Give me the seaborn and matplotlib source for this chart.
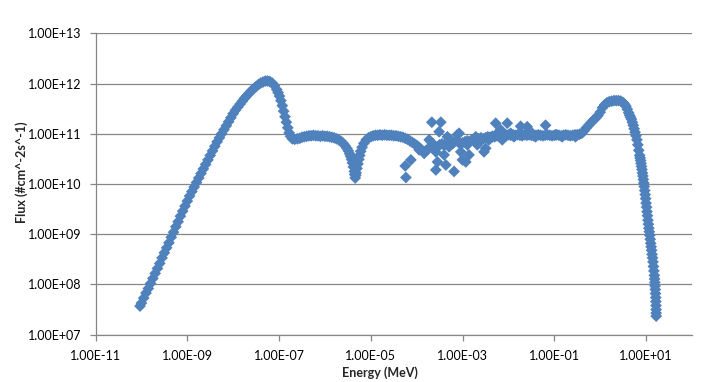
import numpy as np
import pandas as pd
import matplotlib
matplotlib.use("Agg")
import matplotlib.pyplot as plt
import seaborn as sns

# main spectrum as log10(Energy / MeV) and log10(Flux)
log_energy = [
    -10.03, -10.00, -9.95, -9.90, -9.85, -9.80, -9.75, -9.70, -9.65, -9.60,
    -9.55, -9.50, -9.45, -9.40, -9.35, -9.30, -9.25, -9.20, -9.15, -9.10,
    -9.05, -9.00, -8.95, -8.90, -8.85, -8.80, -8.75, -8.70, -8.65, -8.60,
    -8.55, -8.50, -8.45, -8.40, -8.35, -8.30, -8.25, -8.20, -8.15, -8.10,
    -8.05, -8.00, -7.95, -7.90, -7.85, -7.80, -7.75, -7.70, -7.65, -7.60,
    -7.55, -7.50, -7.45, -7.40, -7.35, -7.30, -7.25, -7.20, -7.15, -7.10,
    -7.05, -7.02, -6.99, -6.96, -6.93, -6.90, -6.87, -6.84, -6.81, -6.78,
    -6.75, -6.71, -6.66, -6.60, -6.55, -6.50, -6.45, -6.40, -6.35, -6.30,
    -6.25, -6.20, -6.15, -6.10, -6.05, -6.00, -5.95, -5.90, -5.85, -5.80,
    -5.75, -5.70, -5.65, -5.60, -5.56, -5.52, -5.49, -5.46, -5.44, -5.42,
    -5.40, -5.38, -5.36, -5.35, -5.34, -5.33, -5.32, -5.30, -5.28, -5.26,
    -5.24, -5.22, -5.19, -5.15, -5.10, -5.05, -5.00, -4.95, -4.90, -4.85,
    -4.80, -4.75, -4.70, -4.65, -4.60, -4.55, -4.50, -4.45, -4.40, -4.35,
    -4.30, -4.25, -4.20, -4.15, -4.10, -4.05, -4.00, -3.95, -3.90, -3.85,
    -3.80, -3.75, -3.70, -3.65, -3.60, -3.55, -3.50, -3.45, -3.40, -3.35,
    -3.30, -3.25, -3.20, -3.15, -3.10, -3.05, -3.00, -2.95, -2.90, -2.85,
    -2.80, -2.75, -2.70, -2.65, -2.60, -2.55, -2.50, -2.45, -2.40, -2.35,
    -2.30, -2.25, -2.20, -2.15, -2.10, -2.05, -2.00, -1.95, -1.90, -1.85,
    -1.80, -1.75, -1.70, -1.65, -1.60, -1.55, -1.50, -1.45, -1.40, -1.35,
    -1.30, -1.25, -1.20, -1.15, -1.10, -1.05, -1.00, -0.95, -0.90, -0.85,
    -0.80, -0.75, -0.70, -0.65, -0.60, -0.55, -0.50, -0.45, -0.40, -0.35,
    -0.30, -0.25, -0.20, -0.15, -0.10, -0.05, 0.00, 0.05, 0.10, 0.15,
    0.20, 0.25, 0.30, 0.35, 0.40, 0.45, 0.50, 0.53, 0.56, 0.59,
    0.62, 0.64, 0.66, 0.68, 0.70, 0.72, 0.74, 0.76, 0.78, 0.80,
    0.82, 0.84, 0.86, 0.87, 0.88, 0.89, 0.90, 0.91, 0.92, 0.93,
    0.94, 0.95, 0.96, 0.97, 0.98, 0.99, 1.00, 1.01, 1.02, 1.03,
    1.04, 1.05, 1.06, 1.07, 1.08, 1.09, 1.10, 1.11, 1.12, 1.13,
    1.14, 1.15, 1.16, 1.17, 1.18, 1.185, 1.19, 1.195, 1.20, 1.205,
    1.21, 1.213, 1.216, 1.218, 1.219, 1.22,
]
log_flux = [
    7.57, 7.63, 7.73, 7.83, 7.92, 8.02, 8.12, 8.22, 8.32, 8.42,
    8.53, 8.63, 8.73, 8.83, 8.94, 9.04, 9.15, 9.25, 9.36, 9.46,
    9.56, 9.66, 9.76, 9.85, 9.94, 10.03, 10.12, 10.21, 10.30, 10.39,
    10.48, 10.57, 10.66, 10.75, 10.84, 10.92, 11.00, 11.08, 11.16, 11.24,
    11.32, 11.40, 11.47, 11.53, 11.59, 11.65, 11.71, 11.76, 11.81, 11.86,
    11.90, 11.94, 11.98, 12.01, 12.03, 12.05, 12.05, 12.04, 12.01, 11.96,
    11.88, 11.82, 11.75, 11.66, 11.56, 11.45, 11.34, 11.23, 11.12, 11.02,
    10.95, 10.90, 10.89, 10.90, 10.91, 10.93, 10.94, 10.95, 10.96, 10.96,
    10.97, 10.96, 10.96, 10.95, 10.96, 10.95, 10.95, 10.94, 10.93, 10.92,
    10.90, 10.88, 10.85, 10.81, 10.76, 10.71, 10.66, 10.60, 10.55, 10.49,
    10.42, 10.34, 10.25, 10.19, 10.12, 10.17, 10.22, 10.31, 10.40, 10.49,
    10.57, 10.65, 10.73, 10.81, 10.88, 10.92, 10.94, 10.96, 10.97, 10.97,
    10.98, 10.97, 10.98, 10.97, 10.97, 10.97, 10.96, 10.96, 10.95, 10.94,
    10.93, 10.91, 10.89, 10.86, 10.83, 10.80, 10.77, 10.73, 10.69, 10.64,
    10.66, 10.70, 10.74, 10.72, 10.70, 10.74, 10.78, 10.80, 10.77, 10.82,
    10.80, 10.84, 10.82, 10.86, 10.84, 10.80, 10.82, 10.84, 10.86, 10.84,
    10.88, 10.90, 10.88, 10.90, 10.92, 10.90, 10.92, 10.94, 10.93, 10.95,
    10.94, 10.96, 10.95, 10.96, 10.97, 10.96, 10.98, 10.97, 10.98, 10.97,
    10.98, 10.97, 10.96, 10.98, 10.97, 10.98, 10.97, 10.96, 10.97, 10.98,
    10.97, 10.96, 10.97, 10.98, 10.97, 10.96, 10.97, 10.98, 10.97, 10.96,
    10.97, 10.98, 10.97, 10.96, 10.97, 10.98, 10.98, 10.99, 11.01, 11.06,
    11.12, 11.17, 11.22, 11.27, 11.31, 11.36, 11.43, 11.52, 11.58, 11.62,
    11.64, 11.65, 11.66, 11.66, 11.66, 11.65, 11.62, 11.59, 11.55, 11.49,
    11.42, 11.37, 11.33, 11.29, 11.23, 11.17, 11.10, 11.03, 10.96, 10.88,
    10.78, 10.67, 10.57, 10.52, 10.47, 10.41, 10.35, 10.29, 10.22, 10.16,
    10.09, 10.02, 9.95, 9.87, 9.79, 9.71, 9.62, 9.54, 9.45, 9.37,
    9.28, 9.20, 9.12, 9.05, 8.98, 8.90, 8.82, 8.75, 8.68, 8.60,
    8.53, 8.45, 8.36, 8.27, 8.18, 8.11, 8.04, 7.97, 7.90, 7.82,
    7.74, 7.66, 7.58, 7.50, 7.43, 7.37,
]

# scattered resonance points between ~1e-4 and ~1 MeV
log_energy_res = [
    -4.25, -4.235, -4.126, -3.946, -3.837, -3.670, -3.474, -3.511, -3.728, -3.657,
    -3.583, -3.583, -3.548, -3.402, -3.365, -3.330, -3.293, -3.222, -3.185, -3.113,
    -3.076, -3.039, -3.004, -2.930, -2.859, -2.896, -2.713, -2.678, -2.604, -2.533,
    -2.496, -2.424, -2.352, -2.278, -2.243, -2.170, -2.135, -2.061, -2.026, -1.952,
    -1.880, -1.735, -1.700, -1.591, -1.483, -1.409, -1.191, -0.974, -0.830, -0.539,
]
log_flux_res = [
    10.36, 10.13, 10.48, 10.68, 10.61, 11.23, 11.23, 11.04, 10.88, 10.81,
    10.64, 10.28, 10.44, 10.58, 10.38, 10.94, 10.74, 10.81, 10.25, 10.98,
    11.01, 10.64, 10.48, 10.44, 10.58, 10.78, 10.94, 10.78, 10.88, 10.64,
    10.71, 10.88, 10.94, 11.21, 11.01, 11.08, 10.88, 10.98, 11.21, 11.01,
    10.94, 11.15, 10.98, 11.14, 11.01, 10.94, 11.17, 10.98, 10.94, 10.94,
]

x_ticks = [1e-11, 1e-9, 1e-7, 1e-5, 1e-3, 1e-1, 1e1]
x_tick_labels = ["1.00E-11", "1.00E-09", "1.00E-07", "1.00E-05",
                 "1.00E-03", "1.00E-01", "1.00E+01"]
y_ticks = [1e7, 1e8, 1e9, 1e10, 1e11, 1e12, 1e13]
y_tick_labels = ["1.00E+07", "1.00E+08", "1.00E+09", "1.00E+10",
                 "1.00E+11", "1.00E+12", "1.00E+13"]

df = pd.DataFrame({
    "energy": 10 ** np.array(log_energy + log_energy_res),
    "flux": 10 ** np.array(log_flux + log_flux_res),
})

sns.set_theme(style="white")
plt.rcParams["font.family"] = ["Lato", "DejaVu Sans"]

fig = plt.figure(figsize=(7.15, 3.82), dpi=100)
ax = fig.add_axes([0.1336, 0.1238, 0.8342, 0.789])

sns.scatterplot(data=df, x="energy", y="flux", marker="D", s=36,
                color="#4F81BD", edgecolor="none", linewidth=0,
                legend=False, ax=ax)

ax.set_xscale("log")
ax.set_yscale("log")
ax.set_xlim(1e-11, 1e2)
ax.set_ylim(1e7, 1e13)
ax.set_xticks(x_ticks)
ax.set_xticklabels(x_tick_labels)
ax.set_yticks(y_ticks)
ax.set_yticklabels(y_tick_labels)
ax.xaxis.set_minor_locator(matplotlib.ticker.NullLocator())
ax.yaxis.set_minor_locator(matplotlib.ticker.NullLocator())

ax.yaxis.grid(True, color="#868686", linewidth=0.9)
ax.xaxis.grid(False)
ax.set_axisbelow(True)
for side in ["top", "right"]:
    ax.spines[side].set_visible(False)
for side in ["left", "bottom"]:
    ax.spines[side].set_color("#868686")
    ax.spines[side].set_linewidth(0.9)

ax.tick_params(axis="both", which="major", bottom=True, left=True,
               direction="out", length=4, width=0.9, color="#868686",
               labelsize=9, labelcolor="#000000")
ax.tick_params(axis="x", pad=7)
ax.tick_params(axis="y", pad=6)

ax.set_xlabel("")
ax.set_ylabel("")
fig.text(380 / 715, 1 - 373 / 382, "Energy (MeV)", ha="center", va="center",
         fontsize=9, fontweight="bold")
fig.text(22 / 715, 1 - 172 / 382, "Flux (#cm^-2s^-1)", ha="center", va="center",
         rotation=90, fontsize=9, fontweight="bold")

fig.savefig("out.png", dpi=100)
